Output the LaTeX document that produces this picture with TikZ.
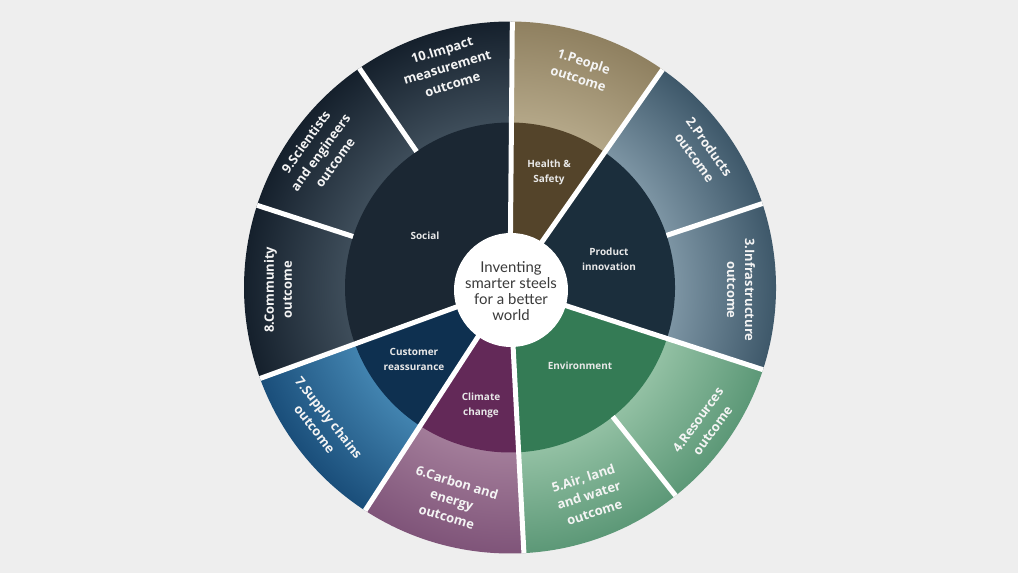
\documentclass[tikz,border=0pt]{standalone}
\usepackage{fontspec}
\setmainfont{Open Sans}
\newfontfamily\labfont{Open Sans}
\newfontfamily\ctrfont{Lato}
\usetikzlibrary{calc}
\definecolor{bg}{HTML}{EEEEEE}
\definecolor{navyIn}{HTML}{3E4D5A}
\definecolor{navyOut}{HTML}{15202C}
\definecolor{tanIn}{HTML}{B4A788}
\definecolor{tanOut}{HTML}{8F8060}
\definecolor{slateIn}{HTML}{7C94A3}
\definecolor{slateOut}{HTML}{3E586A}
\definecolor{greenIn}{HTML}{92C0A3}
\definecolor{greenOut}{HTML}{5C9877}
\definecolor{mauveIn}{HTML}{A27C99}
\definecolor{mauveOut}{HTML}{7F5479}
\definecolor{blueIn}{HTML}{4283AF}
\definecolor{blueOut}{HTML}{1A4E7A}
\definecolor{socialC}{HTML}{1B2733}
\definecolor{hsC}{HTML}{54442A}
\definecolor{prodC}{HTML}{1B2E3C}
\definecolor{envC}{HTML}{347B55}
\definecolor{climC}{HTML}{632958}
\definecolor{custC}{HTML}{0E3050}
\definecolor{ctrText}{HTML}{3A3A3A}
\definecolor{inText}{HTML}{E8E8E8}
\definecolor{outText}{HTML}{F4F4F4}
\pgfdeclareradialshading{shNavy}{\pgfpoint{0bp}{0bp}}{color(0bp)=(navyIn); color(165bp)=(navyIn); color(266bp)=(navyOut); color(280bp)=(navyOut)}
\pgfdeclareradialshading{shTan}{\pgfpoint{0bp}{0bp}}{color(0bp)=(tanIn); color(165bp)=(tanIn); color(266bp)=(tanOut); color(280bp)=(tanOut)}
\pgfdeclareradialshading{shSlate}{\pgfpoint{0bp}{0bp}}{color(0bp)=(slateIn); color(165bp)=(slateIn); color(266bp)=(slateOut); color(280bp)=(slateOut)}
\pgfdeclareradialshading{shGreen}{\pgfpoint{0bp}{0bp}}{color(0bp)=(greenIn); color(165bp)=(greenIn); color(266bp)=(greenOut); color(280bp)=(greenOut)}
\pgfdeclareradialshading{shMauve}{\pgfpoint{0bp}{0bp}}{color(0bp)=(mauveIn); color(165bp)=(mauveIn); color(266bp)=(mauveOut); color(280bp)=(mauveOut)}
\pgfdeclareradialshading{shBlue}{\pgfpoint{0bp}{0bp}}{color(0bp)=(blueIn); color(165bp)=(blueIn); color(266bp)=(blueOut); color(280bp)=(blueOut)}
\begin{document}
\begin{tikzpicture}[x=1bp,y=1bp,
  sector/.style args={#1/#2/#3}{insert path={(O) -- ++(#1:#3) arc[start angle=#1, end angle=#2, radius=#3] -- cycle}},
  shadebox/.style={inner sep=0pt, outer sep=0pt},
  gap/.style={draw=white, line width=5bp},
  olab/.style={text=outText, font=\labfont\bfseries\fontsize{13}{18}\selectfont, align=center, inner sep=0pt},
  ilab/.style={text=inText, font=\labfont\bfseries\fontsize{10}{15}\selectfont, align=center, inner sep=0pt},
  ctrdisc/.style={circle, fill=white, minimum size=114bp, inner sep=0pt},
  ctrtext/.style={text=ctrText, font=\ctrfont\fontsize{15}{16}\selectfont, align=center, inner sep=0pt}]
\fill[bg] (0,0) rectangle (1018,573);
\useasboundingbox (0,0) rectangle (1018,573);
\coordinate (O) at (510,285.5);
% outer ring (shaded wedges)
\begin{scope}\clip[sector=89.5/200/266]; \node[shadebox] (sNavy) at (O) {\pgfuseshading{shNavy}};\end{scope}
\begin{scope}\clip[sector=55/89.5/266]; \node[shadebox] (sTan) at (O) {\pgfuseshading{shTan}};\end{scope}
\begin{scope}\clip[sector=-18/55/266]; \node[shadebox] (sSlate) at (O) {\pgfuseshading{shSlate}};\end{scope}
\begin{scope}\clip[sector=-87/-18/266]; \node[shadebox] (sGreen) at (O) {\pgfuseshading{shGreen}};\end{scope}
\begin{scope}\clip[sector=-123/-87/266]; \node[shadebox] (sMauve) at (O) {\pgfuseshading{shMauve}};\end{scope}
\begin{scope}\clip[sector=-160/-123/266]; \node[shadebox] (sBlue) at (O) {\pgfuseshading{shBlue}};\end{scope}
% inner ring
\fill[socialC, sector=89.5/200/165];
\fill[hsC, sector=55/89.5/165];
\fill[prodC, sector=-18/55/165];
\fill[envC, sector=-87/-18/165];
\fill[climC, sector=-123/-87/165];
\fill[custC, sector=-160/-123/165];
% gaps
\foreach \a in {89.5,55,-18,-87,-123,-160} {\draw[gap] (O) -- ++(\a:266);}
\foreach \a in {18.4,-51.5,162,124.5} {\draw[gap] (O) ++(\a:165) -- ++(\a:101);}
% centre
\node[ctrdisc] (disc) at (511,283) {};
\node[ctrtext] (centre) at (511,282) {Inventing\\smarter steels\\for a better\\world};
% inner labels
\node[ilab] (social) at (425,337) {Social};
\node[ilab] (hs) at (549,401) {Health \&\\Safety};
\node[ilab] (prod) at (609,314) {Product\\innovation};
\node[ilab] (env) at (580,207) {Environment};
\node[ilab] (clim) at (481,168) {Climate\\change};
\node[ilab] (cust) at (414,214) {Customer\\reassurance};
% outer labels
\node[olab, rotate=-18] (o1) at ($(O)+(71.9:229)$) {1.People\\outcome};
\node[olab, rotate=-54] (o2) at ($(O)+(35.2:235)$) {2.Products\\outcome};
\node[olab, rotate=-90] (o3) at ($(O)+(-0.6:231)$) {3.Infrastructure\\outcome};
\node[olab, rotate=54] (o4) at ($(O)+(-35.2:239)$) {4.Resources\\outcome};
\node[olab, rotate=18] (o5) at ($(O)+(-69.2:222)$) {5.Air, land\\and water\\outcome};
\node[olab, rotate=-17] (o6) at ($(O)+(-105.3:220)$) {6.Carbon and\\energy\\outcome};
\node[olab, rotate=-52] (o7) at ($(O)+(-144.2:232)$) {7.Supply chains\\outcome};
\node[olab, rotate=90] (o8) at ($(O)+(180.6:232)$) {8.Community\\outcome};
\node[olab, rotate=54] (o9) at ($(O)+(144.5:233)$) {9.Scientists\\and engineers\\outcome};
\node[olab, rotate=17] (o10) at ($(O)+(105.9:229)$) {10.Impact\\measurement\\outcome};
\end{tikzpicture}
\end{document}
